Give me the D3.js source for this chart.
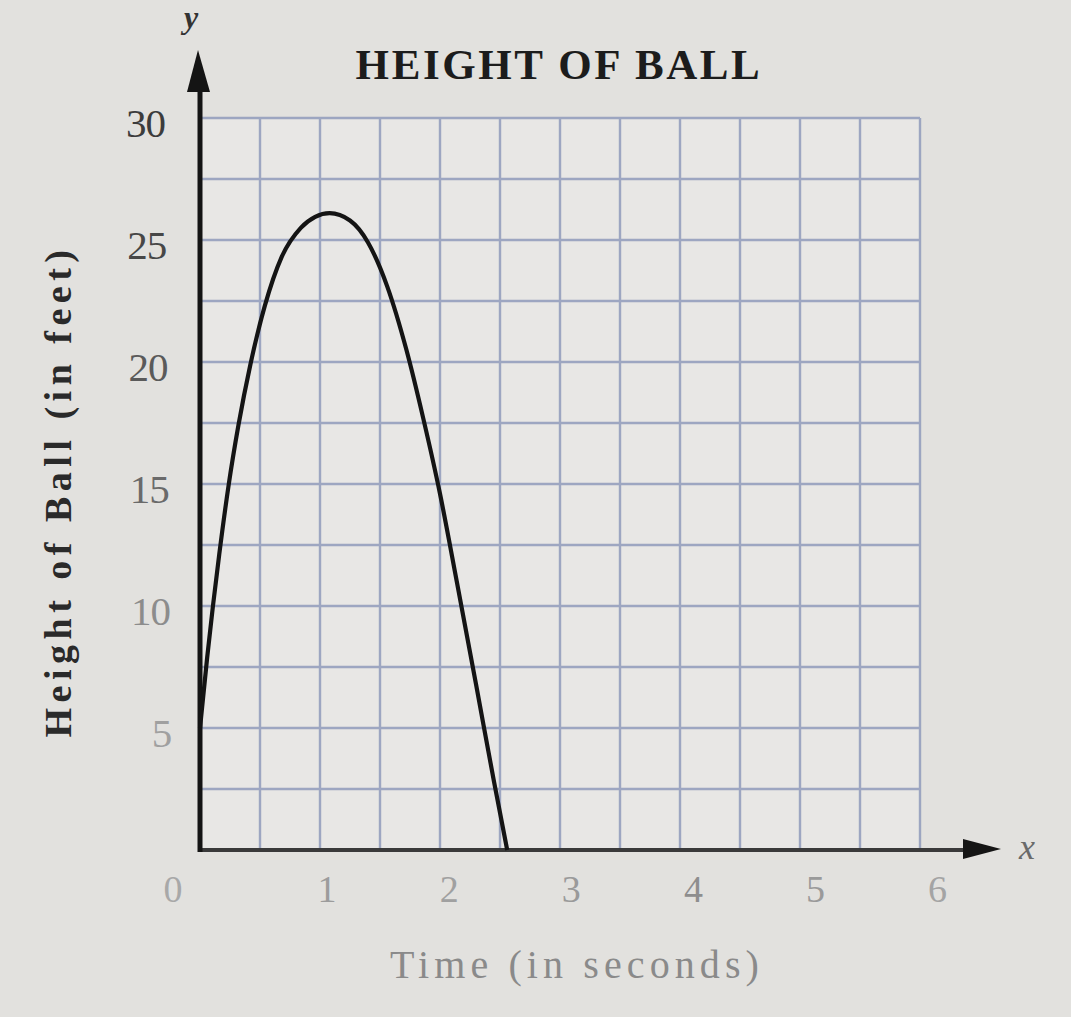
<!DOCTYPE html>
<html>
<head>
<meta charset="utf-8">
<script src="https://cdn.jsdelivr.net/npm/d3@7"></script>
<style>
  html, body { margin: 0; padding: 0; background: #e3e2df; }
  svg { display: block; }
</style>
</head>
<body>
<svg id="chart" width="1071" height="1017"></svg>
<script>
// ---- data ----
const timeSeconds = [0, 0.06, 0.16, 0.24, 0.32, 0.42, 0.54, 0.68, 0.84, 0.96, 1.08, 1.25, 1.40, 1.56, 1.72, 1.86, 2.0, 2.14, 2.30, 2.45, 2.56];
const heightFeet  = [5, 7.9, 12.1, 15.0, 17.4, 19.9, 22.3, 24.3, 25.5, 25.95, 26.1, 25.8, 24.9, 23.1, 20.5, 17.7, 14.6, 11.0, 6.8, 2.8, 0];
const xTickLabels = [0, 1, 2, 3, 4, 5, 6];
const yTickLabels = [5, 10, 15, 20, 25, 30];
const xGridValues = [0.5, 1, 1.5, 2, 2.5, 3, 3.5, 4, 4.5, 5, 5.5, 6];
const yGridValues = [2.5, 5, 7.5, 10, 12.5, 15, 17.5, 20, 22.5, 25, 27.5, 30];
const chartTitle = "HEIGHT OF BALL";
const xTitle = "Time (in seconds)";
const yTitle = "Height of Ball (in feet)";

// ---- layout ----
const svg = d3.select("#chart");
const W = 1071, H = 1017;
const mLeft = 200, mRight = 920, mTop = 118, mBottom = 850;

const x = d3.scaleLinear().domain([0, 6]).range([mLeft, mRight]);
const y = d3.scaleLinear().domain([0, 30]).range([mBottom, mTop]);

// background
svg.append("rect").attr("width", W).attr("height", H).attr("fill", "#e2e1de");
svg.append("rect").attr("x", mLeft).attr("y", mTop).attr("width", mRight - mLeft).attr("height", mBottom - mTop)
  .attr("fill", "#e8e7e5");

const serif = "'Liberation Serif', 'DejaVu Serif', serif";

// grid
const grid = svg.append("g").attr("stroke", "#909bbb").attr("stroke-width", 2.4).attr("opacity", 0.85);
grid.selectAll("line.v").data(xGridValues).join("line").attr("class", "v")
  .attr("x1", d => x(d)).attr("x2", d => x(d)).attr("y1", y(30)).attr("y2", y(0));
grid.selectAll("line.h").data(yGridValues).join("line").attr("class", "h")
  .attr("x1", x(0)).attr("x2", x(6)).attr("y1", d => y(d)).attr("y2", d => y(d));

// x axis line with arrow
svg.append("line").attr("x1", x(0)).attr("x2", 975).attr("y1", y(0)).attr("y2", y(0))
  .attr("stroke", "#3a3a3a").attr("stroke-width", 4);
svg.append("path").attr("d", `M963,${y(0) - 11} L1001,${y(0) - 1} L963,${y(0) + 9} Z`).attr("fill", "#151515");
svg.append("text").attr("x", 1027).attr("y", y(0) + 9).attr("text-anchor", "middle")
  .attr("font-family", serif).attr("font-style", "italic").attr("font-size", 36).attr("fill", "#6a6a6a").text("x");

// y axis line with arrow
svg.append("line").attr("x1", x(0)).attr("x2", x(0)).attr("y1", y(0) + 2).attr("y2", 70)
  .attr("stroke", "#141414").attr("stroke-width", 5);
svg.append("path").attr("d", `M${x(0) - 13},92 L${x(0) - 2},50 L${x(0) + 10},92 Z`).attr("fill", "#141414");
svg.append("text").attr("x", 191).attr("y", 28).attr("text-anchor", "middle")
  .attr("font-family", serif).attr("font-style", "italic").attr("font-weight", "bold").attr("font-size", 32).attr("fill", "#333").text("y");

// curve
const pts = timeSeconds.map((t, i) => [t, heightFeet[i]]);
const line = d3.line().x(d => x(d[0])).y(d => y(d[1])).curve(d3.curveMonotoneX);
svg.append("path").datum(pts).attr("d", line)
  .attr("fill", "none").attr("stroke", "#141414").attr("stroke-width", 4.2).attr("stroke-linejoin", "round");

// x tick labels
const xLabelColor = {0: "#a8a8a8", 1: "#9c9c9c", 2: "#a0a0a0", 3: "#9a9a9a", 4: "#8e8e8e", 5: "#9a9a9a", 6: "#a4a4a4"};
svg.append("g").selectAll("text").data(xTickLabels).join("text")
  .attr("x", d => d === 0 ? x(d) - 27 : x(d) + 5 + d * 2.1)
  .attr("y", 902).attr("text-anchor", "middle")
  .attr("font-family", serif).attr("font-size", 38)
  .attr("fill", d => xLabelColor[d]).text(d => d);

// y tick labels
const yLabelColor = {5: "#a0a0a0", 10: "#8c8c8c", 15: "#6a6a6a", 20: "#5a5a5a", 25: "#474747", 30: "#3c3c3c"};
svg.append("g").selectAll("text").data(yTickLabels).join("text")
  .attr("x", d => 165 + (30 - d) * 0.25).attr("y", d => y(d) + 19).attr("text-anchor", "end")
  .attr("font-family", serif).attr("font-size", 41).attr("letter-spacing", -1)
  .attr("fill", d => yLabelColor[d]).text(d => d);

// title
svg.append("text").attr("x", 559).attr("y", 79).attr("text-anchor", "middle")
  .attr("font-family", serif).attr("font-weight", "bold").attr("font-size", 43).attr("letter-spacing", 2.6)
  .attr("fill", "#1c1c1c").text(chartTitle);

// x title
svg.append("text").attr("x", 577).attr("y", 978).attr("text-anchor", "middle")
  .attr("font-family", serif).attr("font-size", 40).attr("letter-spacing", 5.1).attr("fill", "#8a8a8a").text(xTitle);

// y title
svg.append("text").attr("transform", "translate(71,491) rotate(-90)").attr("text-anchor", "middle")
  .attr("font-family", serif).attr("font-weight", "bold").attr("font-size", 38).attr("letter-spacing", 5.5)
  .attr("fill", "#2a2a2a").text(yTitle);
</script>
</body>
</html>
